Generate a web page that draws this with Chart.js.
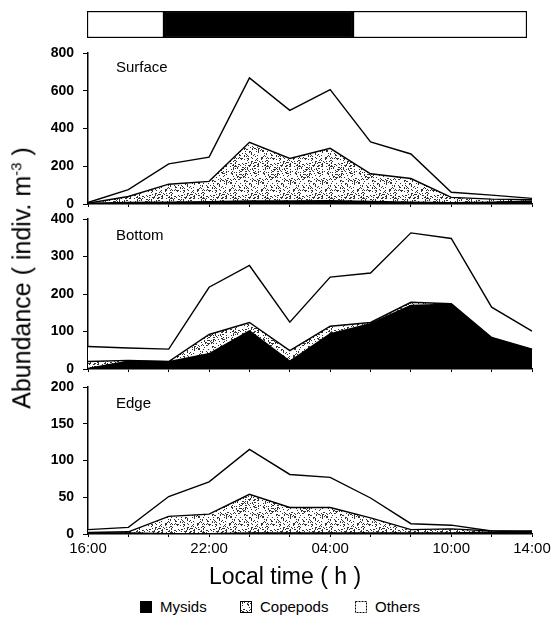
<!DOCTYPE html>
<html>
<head>
<meta charset="utf-8">
<script src="https://cdn.jsdelivr.net/npm/chart.js@4.4.1/dist/chart.umd.min.js"></script>
<style>
    body { margin: 0; background: #fff; width: 553px; height: 618px; position: relative; overflow: hidden;
           font-family: "Liberation Sans", Arial, sans-serif; color: #000; }
    .box { position: absolute; left: 0; width: 553px; }
    .panel-name { position: absolute; left: 116px; font-size: 15px; }
    .legend { position: absolute; top: 598px; font-size: 15px; display: flex; align-items: center; }
    .swatch { width: 12px; height: 12px; margin-right: 8px; box-sizing: border-box; }
</style>
</head>
<body>

<div class="box" style="left:87px; width:440px; top:11px; height:27px"><canvas id="lightBar"></canvas></div>

<div class="box" style="top:42px; height:167px"><canvas id="surface"></canvas></div>
<div class="box" style="top:208px; height:166px"><canvas id="bottom"></canvas></div>
<div class="box" style="top:376px; height:182px"><canvas id="edge"></canvas></div>

<div class="panel-name" style="top:58px">Surface</div>
<div class="panel-name" style="top:226px">Bottom</div>
<div class="panel-name" style="top:394px">Edge</div>

<div style="position:absolute; left:0; width:553px; top:563px; text-align:center; padding-left:17px; box-sizing:border-box; font-size:23px">Local time ( h )</div>

<div style="position:absolute; left:22px; top:278px; width:0; height:0">
    <div style="position:absolute; transform: translate(-50%, -50%) rotate(-90deg); white-space:nowrap; font-size:25px">
        Abundance ( indiv. m<sup style="font-size:15px">-3</sup> )
    </div>
</div>

<div class="legend" style="left:140px"><canvas id="swMys" class="swatch" width="12" height="12"></canvas>Mysids</div>
<div class="legend" style="left:240px"><canvas id="swCop" class="swatch" width="12" height="12"></canvas>Copepods</div>
<div class="legend" style="left:355px"><canvas id="swOth" class="swatch" width="12" height="12"></canvas>Others</div>

<script>
// ===============================
// Data
// ===============================

const times = ["16:00", "18:00", "20:00", "22:00", "00:00", "02:00",
               "04:00", "06:00", "08:00", "10:00", "12:00", "14:00"];
const shownTimes = ["16:00", "22:00", "04:00", "10:00", "14:00"];

// light / dark bar, in hours after midnight of the first day
const lightEdges = [16, 19.85, 29.3, 38];
const lightColors = ["#ffffff", "#000000", "#ffffff"];

const surfaceMysids   = [2, 6, 8, 10, 14, 15, 16, 12, 8, 5, 8, 14];
const surfaceCopepods = [2, 34, 97, 110, 313, 226, 279, 148, 127, 30, 18, 9];
const surfaceOthers   = [4, 36, 108, 128, 341, 255, 311, 169, 130, 27, 21, 7];

const bottomMysids   = [1, 20, 19, 40, 101, 20, 93, 120, 169, 172, 82, 51];
const bottomCopepods = [19, 3, 1, 52, 23, 29, 21, 4, 9, 2, 2, 2];
const bottomOthers   = [40, 33, 33, 126, 152, 76, 131, 132, 185, 174, 81, 48];

const edgeMysids   = [1, 1, 0, 0, 1, 1, 1, 1, 1, 1, 2, 3];
const edgeCopepods = [1, 2, 24, 27, 53, 35, 35, 21, 5, 6, 2, 0];
const edgeOthers   = [4, 6, 27, 44, 61, 45, 41, 27, 8, 5, 0, 1];

const surfaceTicks = [0, 200, 400, 600, 800];
const bottomTicks  = [0, 100, 200, 300, 400];
const edgeTicks    = [0, 50, 100, 150, 200];

// ===============================
// Stipple pattern for copepods
// ===============================

function makeStipple() {
    const c = document.createElement("canvas");
    c.width = 32; c.height = 32;
    const g = c.getContext("2d");
    g.fillStyle = "#ffffff";
    g.fillRect(0, 0, 32, 32);
    g.fillStyle = "#333333";
    let s = 12345;
    for (let i = 0; i < 250; i++) {
        s = (s * 16807) % 2147483647;
        const x = s % 32;
        s = (s * 16807) % 2147483647;
        const y = s % 32;
        g.fillRect(x, y, 1, 1);
    }
    return g.createPattern(c, "repeat");
}
const stipple = makeStipple();

// ===============================
// Light / dark bar
// ===============================

new Chart(document.getElementById("lightBar"), {
    type: "bar",
    data: {
        labels: ["light"],
        datasets: lightColors.map((col, i) => ({
            data: [[lightEdges[i], lightEdges[i + 1]]],
            backgroundColor: col,
            borderColor: "#000",
            borderWidth: 1.5,
            borderSkipped: false,
            barPercentage: 1,
            categoryPercentage: 1,
            grouped: false
        }))
    },
    options: {
        indexAxis: "y",
        responsive: true,
        maintainAspectRatio: false,
        animation: false,
        devicePixelRatio: 1,
        layout: { padding: 0 },
        plugins: { legend: { display: false }, tooltip: { enabled: false } },
        scales: {
            x: { type: "linear", min: lightEdges[0], max: lightEdges[lightEdges.length - 1], display: false },
            y: { display: false }
        }
    }
});

// ===============================
// Stacked area panels
// ===============================

function makePanel(id, mysids, copepods, others, ticks, withLabels) {
    const yMax = ticks[ticks.length - 1];
    const step = ticks[1] - ticks[0];

    const base = {
        borderColor: "#000",
        borderWidth: 1.4,
        pointRadius: 0,
        tension: 0
    };

    return new Chart(document.getElementById(id), {
        type: "line",
        data: {
            labels: times,
            datasets: [
                { ...base, label: "Mysids",   data: mysids,   backgroundColor: "#000", fill: "origin", borderWidth: 2 },
                { ...base, label: "Copepods", data: copepods, backgroundColor: stipple, fill: "-1" },
                { ...base, label: "Others",   data: others,   backgroundColor: "#fff", fill: "-1" }
            ]
        },
        options: {
            responsive: true,
            maintainAspectRatio: false,
            animation: false,
            devicePixelRatio: 1,
            layout: { padding: { top: 11, right: 21, left: 0, bottom: 0 } },
            plugins: { legend: { display: false }, tooltip: { enabled: false } },
            scales: {
                x: {
                    type: "category",
                    offset: false,
                    grid: { drawOnChartArea: false, drawTicks: true, tickLength: 3, color: "#000", lineWidth: 1 },
                    border: { display: true, color: "#000", width: 1.5 },
                    ticks: {
                        display: withLabels,
                        autoSkip: false,
                        maxRotation: 0,
                        padding: 3,
                        color: "#000",
                        font: { family: "Liberation Sans", size: 15 },
                        callback: function (v) {
                            const t = this.getLabelForValue(v);
                            return shownTimes.includes(t) ? t : "";
                        }
                    },
                    afterFit: s => {
                        s.height = withLabels ? 24 : 5;
                        s.paddingLeft = 0;
                        s.paddingRight = 0;
                    }
                },
                y: {
                    stacked: true,
                    min: 0,
                    max: yMax,
                    grid: { drawOnChartArea: false, drawTicks: true, tickLength: 5, color: "#000", lineWidth: 1 },
                    border: { display: true, color: "#000", width: 1.5 },
                    ticks: {
                        stepSize: step,
                        padding: 9,
                        color: "#000",
                        font: { family: "Liberation Sans", size: 14, weight: "bold" }
                    },
                    afterFit: s => {
                        s.width = 88;
                        s.paddingTop = 0;
                        s.paddingBottom = 0;
                    }
                }
            }
        }
    });
}

makePanel("surface", surfaceMysids, surfaceCopepods, surfaceOthers, surfaceTicks, false);
makePanel("bottom", bottomMysids, bottomCopepods, bottomOthers, bottomTicks, false);
makePanel("edge", edgeMysids, edgeCopepods, edgeOthers, edgeTicks, true);

// legend swatches
function swatch(id, fill, dotted) {
    const g = document.getElementById(id).getContext("2d");
    g.fillStyle = fill;
    g.fillRect(0, 0, 12, 12);
    g.strokeStyle = "#000";
    g.lineWidth = 1;
    if (dotted) g.setLineDash([2, 1]);
    g.strokeRect(0.5, 0.5, 11, 11);
}
swatch("swMys", "#000", false);
swatch("swCop", stipple, false);
swatch("swOth", "#fff", true);
</script>
</body>
</html>
